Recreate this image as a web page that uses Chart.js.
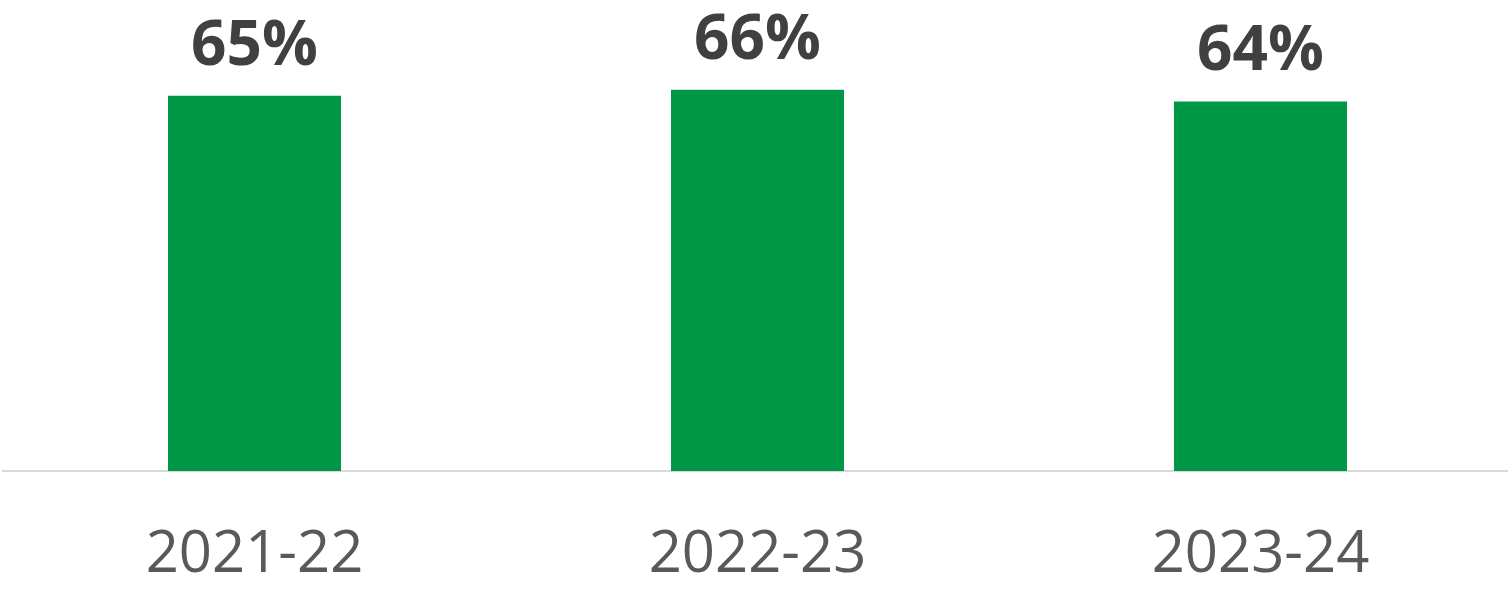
<!DOCTYPE html>
<html>
<head>
<meta charset="utf-8">
<script src="https://cdn.jsdelivr.net/npm/chart.js@4"></script>
<style>
  html, body { margin: 0; padding: 0; background: #fff; overflow: hidden; }
  #wrap { width: 1512px; height: 592px; }
</style>
</head>
<body>
<div id="wrap"><canvas id="rateChart"></canvas></div>
<script>
const years = ['2021-22', '2022-23', '2023-24'];
const rates = [65, 66, 64];

// draws the "65%" style labels above each bar
const barLabels = {
    id: 'barLabels',
    afterDatasetsDraw(chart) {
        const ctx = chart.ctx;
        const meta = chart.getDatasetMeta(0);
        ctx.save();
        ctx.font = 'bold 62px "Open Sans"';
        ctx.fillStyle = '#404040';
        ctx.textAlign = 'center';
        ctx.textBaseline = 'alphabetic';
        meta.data.forEach((bar, i) => {
            ctx.fillText(rates[i] + '%', bar.x, bar.y - 31);
        });
        ctx.restore();
    }
};

const ctx1 = document.getElementById('rateChart').getContext('2d');
const rateChart = new Chart(ctx1, {
    type: 'bar',
    data: {
        labels: years,
        datasets: [{
            data: rates,
            backgroundColor: '#009846',
            barPercentage: 0.344,
            categoryPercentage: 1
        }]
    },
    options: {
        responsive: true,
        maintainAspectRatio: false,
        animation: false,
        layout: {
            padding: { top: 9, left: 3, right: 0, bottom: 3 }
        },
        plugins: {
            legend: { display: false },
            tooltip: { enabled: false }
        },
        scales: {
            x: {
                grid: {
                    display: false
                },
                border: {
                    display: true,
                    color: '#d9d9d9',
                    width: 2
                },
                ticks: {
                    color: '#595959',
                    padding: 42,
                    maxRotation: 0,
                    font: { family: '"Open Sans"', size: 58 }
                },
                afterFit(scale) {
                    scale.height = 118;
                }
            },
            y: {
                display: false,
                min: 0,
                max: 80
            }
        }
    },
    plugins: [barLabels]
});
</script>
</body>
</html>
